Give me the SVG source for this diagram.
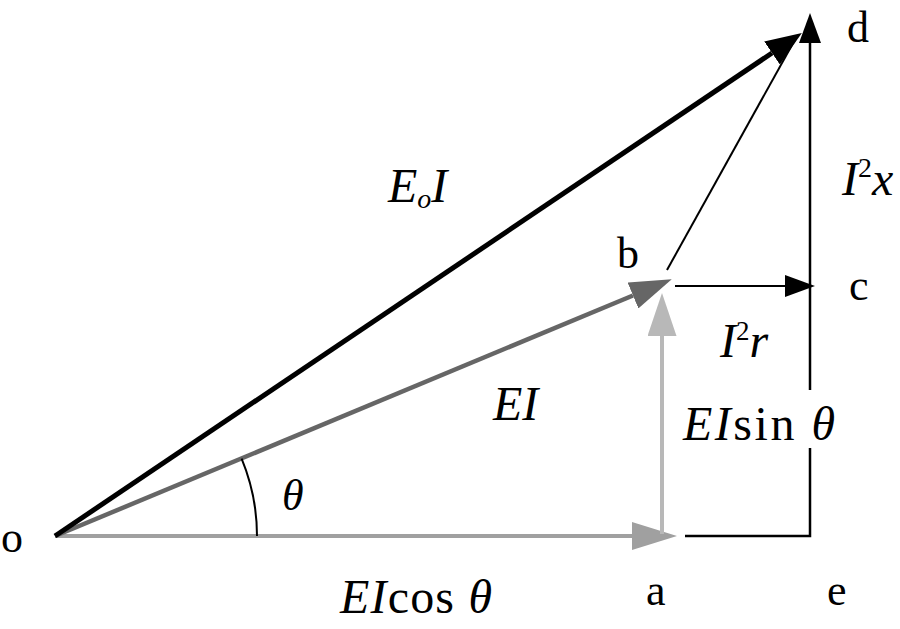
<svg xmlns="http://www.w3.org/2000/svg" width="900" height="629" viewBox="0 0 900 629">
<style>
.lbl{font-family:"Liberation Serif","DejaVu Serif",serif;font-size:44px;fill:#000}
.m{font-family:"Liberation Serif","DejaVu Serif",serif;font-size:48px;fill:#000}
.it{font-style:italic}
</style>
<defs>
<marker id="mBlack" markerUnits="userSpaceOnUse" markerWidth="40" markerHeight="30" refX="0" refY="14" orient="auto"><path d="M0,0 L36,14 L0,28 Z" fill="#000"/></marker>
<marker id="mSmall" markerUnits="userSpaceOnUse" markerWidth="32" markerHeight="24" refX="0" refY="11" orient="auto"><path d="M0,0 L30,11 L0,22 Z" fill="#000"/></marker>
<marker id="mDark" markerUnits="userSpaceOnUse" markerWidth="44" markerHeight="28" refX="0" refY="14" orient="auto"><path d="M0,0 L42,14 L0,28 Z" fill="#666"/></marker>
<marker id="mMid" markerUnits="userSpaceOnUse" markerWidth="46" markerHeight="28" refX="0" refY="14" orient="auto"><path d="M0,0 L45,14 L0,28 Z" fill="#a0a0a0"/></marker>
<marker id="mLight" markerUnits="userSpaceOnUse" markerWidth="44" markerHeight="30" refX="0" refY="14.5" orient="auto"><path d="M0,0 L43,14.5 L0,29 Z" fill="#b8b8b8"/></marker>
</defs>
<g id="connectors" fill="none">
<line id="o-a" x1="55" y1="536" x2="632" y2="536" stroke="#a0a0a0" stroke-width="4" marker-end="url(#mMid)"/>
<line id="a-b" x1="662" y1="534" x2="662" y2="336" stroke="#b8b8b8" stroke-width="4" marker-end="url(#mLight)"/>
<line id="o-b" x1="55" y1="536" x2="633" y2="295.5" stroke="#666" stroke-width="4.5" marker-end="url(#mDark)"/>
<line id="o-d" x1="55" y1="536" x2="772" y2="53" stroke="#000" stroke-width="5" marker-end="url(#mBlack)"/>
<line id="b-d" x1="667" y1="270" x2="797" y2="36" stroke="#000" stroke-width="2"/>
<line id="b-c" x1="675" y1="286" x2="785" y2="286" stroke="#000" stroke-width="2" marker-end="url(#mSmall)"/>
<path id="a-e-c" d="M685,536 H810 V448" stroke="#000" stroke-width="2.5"/>
<line id="c-d" x1="810" y1="390" x2="810" y2="43" stroke="#000" stroke-width="2.5" marker-end="url(#mSmall)"/>
<path id="angle" d="M257,536 A202,202 0 0 0 241.6,458.7" stroke="#000" stroke-width="2"/>
</g>
<g id="node-o"><text class="lbl" x="1" y="552">o</text></g>
<g id="node-a"><text class="lbl" x="646" y="605">a</text></g>
<g id="node-e"><text class="lbl" x="827" y="605">e</text></g>
<g id="node-b"><text class="lbl" x="617" y="268">b</text></g>
<g id="node-c"><text class="lbl" x="849" y="300">c</text></g>
<g id="node-d"><text class="lbl" x="847" y="42">d</text></g>
<g id="label-theta"><text class="lbl it" x="282" y="510">θ</text></g>
<g id="label-EoI"><text class="m it" x="388" y="202">E<tspan font-size="28" dy="6">o</tspan><tspan dy="-6">I</tspan></text></g>
<g id="label-EI"><text class="m it" x="493" y="420" font-size="50">EI</text></g>
<g id="label-I2x"><text class="m it" x="842" y="195" font-size="50">I<tspan font-size="28" font-style="normal" dy="-18">2</tspan><tspan dy="18">x</tspan></text></g>
<g id="label-I2r"><text class="m it" x="720" y="357" font-size="48">I<tspan font-size="27" font-style="normal" dy="-17">2</tspan><tspan dy="17">r</tspan></text></g>
<g id="label-EIsin"><text class="m" x="683" y="440" textLength="152" lengthAdjust="spacing"><tspan font-style="italic">EI</tspan>sin <tspan font-style="italic">θ</tspan></text></g>
<g id="label-EIcos"><text class="m" x="340" y="613" textLength="152" lengthAdjust="spacing"><tspan font-style="italic">EI</tspan>cos <tspan font-style="italic">θ</tspan></text></g>
</svg>
